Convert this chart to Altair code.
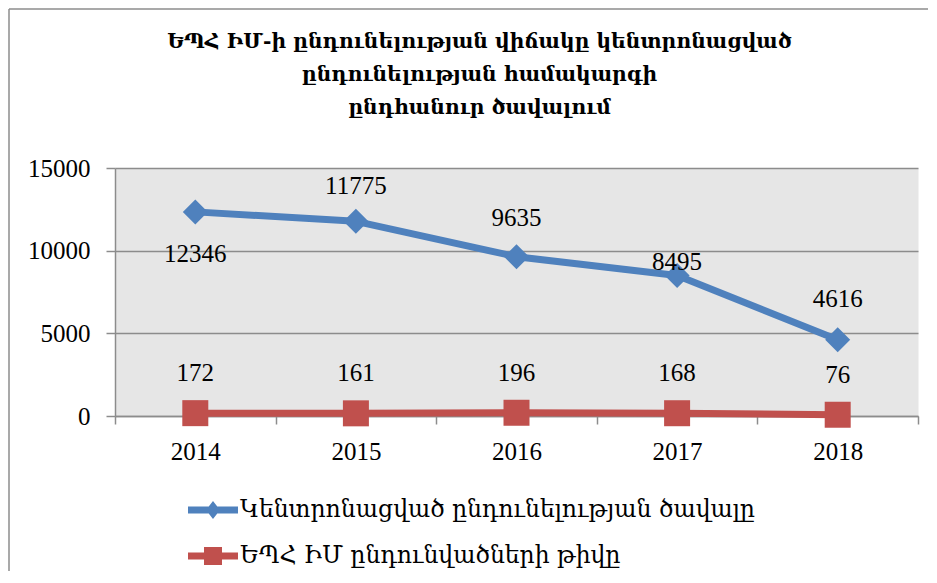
import altair as alt
import pandas as pd

years = [2014, 2015, 2016, 2017, 2018]
volume = [12346, 11775, 9635, 8495, 4616]
admitted = [172, 161, 196, 168, 76]

s1 = "Կենտրոնացված ընդունելության ծավալը"
s2 = "ԵՊՀ ԻՄ ընդունվածների թիվը"
series_names = [s1, s2]
colors = ["#4F81BD", "#C0504D"]

title_lines = [
    "ԵՊՀ ԻՄ-ի ընդունելության վիճակը կենտրոնացված",
    "ընդունելության  համակարգի",
    "ընդհանուր ծավալում",
]

# label vertical offsets (style, px; negative = above the point)
blue_label_dy = [42, -35, -39, -14, -41]
red_label_dy = [-40, -40, -40, -40, -40]

Y_MAX = 15000
PLOT_H = 248

rows = []
for yv, v, d in zip(years, volume, blue_label_dy):
    rows.append({"year": yv, "value": v, "series": s1, "dy": d})
for yv, v, d in zip(years, admitted, red_label_dy):
    rows.append({"year": yv, "value": v, "series": s2, "dy": d})
df = pd.DataFrame(rows)

NUM_FONT = "Liberation Serif"
ARM_FONT = "DejaVu Serif"

tick_vals = [2013.5, 2014, 2014.5, 2015, 2015.5, 2016, 2016.5, 2017, 2017.5, 2018, 2018.5]

x = alt.X(
    "year:Q",
    scale=alt.Scale(domain=[2013.5, 2018.5], nice=False, zero=False),
    axis=alt.Axis(
        values=tick_vals,
        labelExpr="datum.value % 1 == 0 ? format(datum.value, 'd') : ''",
        tickOpacity=alt.condition("datum.value % 1 != 0", alt.value(1), alt.value(0)),
        grid=False,
        title=None,
        labelOverlap=False,
        labelFlush=False,
        tickSize=8,
        tickColor="#8C8C8C",
        tickWidth=1.5,
        domainColor="#8C8C8C",
        domainWidth=1.5,
        labelFont=NUM_FONT,
        labelFontSize=25,
        labelColor="black",
        labelPadding=15,
    ),
)
y_scale = alt.Scale(domain=[0, Y_MAX], nice=False)
y_axis = alt.Axis(
    values=[0, 5000, 10000, 15000],
    format="d",
    grid=True,
    gridColor="#8C8C8C",
    gridWidth=1.5,
    title=None,
    tickSize=9,
    tickColor="#8C8C8C",
    tickWidth=1.5,
    domainColor="#8C8C8C",
    domainWidth=1.5,
    labelFont=NUM_FONT,
    labelFontSize=25,
    labelColor="black",
    labelPadding=16,
    labelFlush=False,
)
y = alt.Y("value:Q", scale=y_scale, axis=y_axis)

base = alt.Chart(df)

def series_layers(name, col, shape, size):
    sub = base.transform_filter(alt.datum.series == name)
    ln = sub.mark_line(strokeWidth=7, strokeCap="round", strokeJoin="round", color=col).encode(x=x, y=y)
    pt = sub.mark_point(shape=shape, filled=True, size=size, opacity=1, color=col).encode(x=x, y=y)
    return ln, pt

l1, p1 = series_layers(s1, colors[0], "diamond", 625)
l2, p2 = series_layers(s2, colors[1], "square", 676)

labels = base.transform_calculate(
    label_y=f"datum.value - datum.dy * {Y_MAX} / {PLOT_H}"
).mark_text(font=NUM_FONT, fontSize=25, color="black", baseline="middle").encode(
    x=x,
    y=alt.Y("label_y:Q", scale=y_scale, axis=y_axis),
    text=alt.Text("value:Q", format="d"),
)

p_blue = ("M-1,-0.14 L-0.171,-0.14 L0,-0.36 L0.171,-0.14 L1,-0.14 L1,0.14 "
          "L0.171,0.14 L0,0.36 L-0.171,0.14 L-1,0.14 Z")
p_red = ("M-1,-0.14 L-0.36,-0.14 L-0.36,-0.36 L0.36,-0.36 L0.36,-0.14 L1,-0.14 "
         "L1,0.14 L0.36,0.14 L0.36,0.36 L-0.36,0.36 L-0.36,0.14 L-1,0.14 Z")

legend_layer = base.transform_filter("false").mark_point(filled=True, opacity=1).encode(
    x=x,
    y=y,
    color=alt.Color(
        "series:N",
        scale=alt.Scale(domain=series_names, range=colors),
        legend=alt.Legend(
            orient="none",
            legendX=73,
            legendY=322,
            title=None,
            symbolSize=2500,
            clipHeight=40,
            rowPadding=6,
            padding=0,
            labelOffset=2,
            labelFont=ARM_FONT,
            labelFontSize=23.5,
            labelColor="black",
            labelLimit=0,
            symbolStrokeWidth=0,
            symbolOpacity=1,
        ),
    ),
    shape=alt.Shape("series:N", scale=alt.Scale(domain=series_names, range=[p_blue, p_red])),
)

frame_data = alt.Data(values=[{"a": 1}])
frame_top = alt.Chart(frame_data).mark_rule(color="#8C8C8C", strokeWidth=1.5).encode(
    x=alt.value(-106), x2=alt.value(813), y=alt.value(-159)
)
frame_left = alt.Chart(frame_data).mark_rule(color="#8C8C8C", strokeWidth=1.5).encode(
    x=alt.value(-106), y=alt.value(-159), y2=alt.value(415)
)

chart = alt.layer(frame_top, frame_left, l1, l2, p1, p2, labels, legend_layer).properties(
    width=803,
    height=248,
    autosize=alt.AutoSizeParams(type="none"),
    padding={"left": 107, "top": 160, "right": 10, "bottom": 155},
    title=alt.TitleParams(
        text=title_lines,
        font=ARM_FONT,
        fontSize=20.3,
        fontWeight="bold",
        color="black",
        anchor="middle",
        dx=-37,
        offset=-110,
        lineHeight=33,
    ),
).configure(
    background="white",
    view=alt.ViewConfig(fill="#E6E6E6", stroke="transparent"),
)

chart.save("out.html", embed_options={"renderer": "svg", "actions": False})
